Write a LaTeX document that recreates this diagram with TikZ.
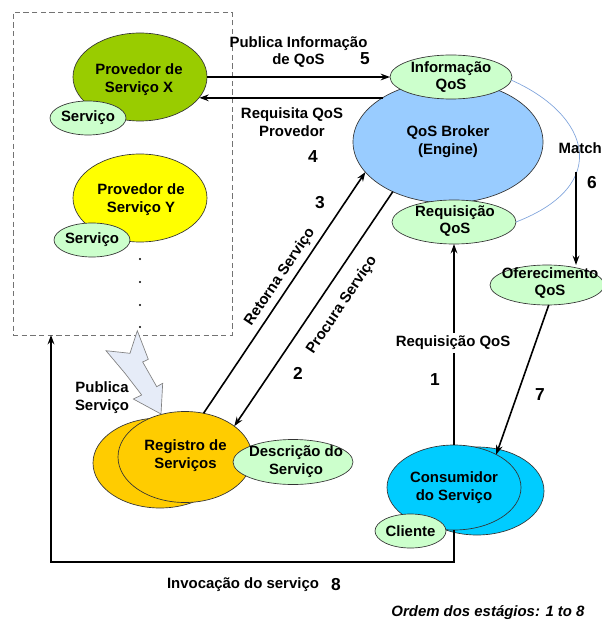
\documentclass[tikz,border=0pt]{standalone}
\usepackage{fontspec}
\setmainfont{Liberation Sans}
\usetikzlibrary{shapes.geometric,arrows.meta,calc}
\definecolor{olive}{HTML}{99CC00}
\definecolor{yel}{HTML}{FFFF00}
\definecolor{lgreen}{HTML}{CCFFCC}
\definecolor{lblue}{HTML}{99CCFF}
\definecolor{gold}{HTML}{FFCC00}
\definecolor{cyanc}{HTML}{00CCFF}
\definecolor{matchc}{HTML}{7FA3DC}
\definecolor{boltf}{HTML}{E6ECF8}
\begin{document}
\begin{tikzpicture}[x=0.75pt,y=-0.75pt,
  E/.style 2 args={ellipse, draw=black!80, line width=0.5pt, inner sep=0pt, outer sep=0pt,
    minimum width={1.5pt*#1}, minimum height={1.5pt*#2}},
  txt/.style={font=\fontsize{11.2}{13.4}\selectfont\bfseries, align=center, inner sep=1pt},
  num/.style={font=\fontsize{13}{15}\selectfont\bfseries, inner sep=0pt},
  arr/.style={line width=1.2pt, -{Stealth[length=7pt,width=5pt]}},
  dotc/.style={circle, fill=black, inner sep=0pt, minimum size=1.6pt}]
\useasboundingbox (0,0) rectangle (601,623);

% dashed group box
\node[draw=black!55, dash pattern=on 4pt off 2.5pt, line width=0.6pt, inner sep=0pt, outer sep=0pt,
  minimum width=164.25pt, minimum height=242.25pt] (grp) at (122.5,173.5) {};

% providers
\node[E={67}{44}, fill=olive] (pX) at (140,77) {};
\node[txt] (tpX) at (139,80) {Provedor de\\Serviço X};
\node[E={38}{17}, fill=lgreen] (sX) at (88,118) {};
\node[txt] (tsX) at (88,118) {Serviço};

\node[E={67}{44}, fill=yel] (pY) at (140,198) {};
\node[txt] (tpY) at (141,200) {Provedor de\\Serviço Y};
\node[E={38}{17}, fill=lgreen] (sY) at (92,240) {};
\node[txt] (tsY) at (92,240) {Serviço};

\node[dotc] (d1) at (140,259) {};
\node[dotc] (d2) at (140,282) {};
\node[dotc] (d3) at (140,305) {};
\node[dotc] (d4) at (140,327) {};

% broker
\node[E={95}{61}, fill=lblue] (brk) at (448,142) {};
\node[txt] (tbrk) at (448,142) {QoS Broker\\(Engine)};
\node[E={61}{22}, fill=lgreen] (info) at (451,77) {};
\node[txt] (tinfo) at (451,77) {Informação\\QoS};
\node[E={62}{22}, fill=lgreen] (req) at (454,222) {};
\node[txt] (treq) at (455,221) {Requisição\\QoS};

% offer
\node[E={57}{20}, fill=lgreen] (ofr) at (547,285) {};
\node[txt] (tofr) at (550,283) {Oferecimento\\QoS};

% registry
\node[E={67}{45}, fill=gold] (regb) at (160,463) {};
\node[E={67}{45.5}, fill=gold] (reg) at (185,457) {};
\node[txt] (treg) at (185.5,456) {Registro de\\Serviços};
\node[E={60}{22.5}, fill=lgreen] (desc) at (293,462) {};
\node[txt] (tdesc) at (296,462) {Descrição do\\Serviço};

% consumer
\node[E={67}{44}, fill=cyanc] (consb) at (477,491) {};
\node[E={67}{42.5}, fill=cyanc] (cons) at (454,487.5) {};
\node[txt] (tcons) at (454,488) {Consumidor\\do Serviço};
\node[E={35.5}{17}, fill=lgreen] (cli) at (410.5,531) {};
\node[txt] (tcli) at (410.5,531) {Cliente};

% publish bolt
\draw[draw=black!50, fill=boltf, line width=0.5pt, line join=miter]
  (137.3,330.7) -- (148.3,359.3) -- (142.7,362) -- (156.7,386.7) -- (162.7,383.3)
  -- (161,414) -- (133.3,399) -- (141.7,395) -- (125,373.3) -- (106,350.7)
  -- (130,353.3) -- cycle;
\node[txt] (tpub) at (102,398) {Publica\\Serviço};

% arrow 5 and 4
\draw[arr] (pX.east) -- (info.west);
\node[txt] (t5) at (298.5,52) {Publica Informação\\de QoS};
\node[num] (n5) at (365,59) {5};
\draw[arr] (brk.146) -- (pX.-19.6 |- brk.146);
\node[txt] (t4) at (292,122) {Requisita QoS\\Provedor};
\node[num] (n4) at (313,157) {4};

% arrows 3 and 2
\draw[arr] (reg.67.8) -- (brk.200);
\node[txt, rotate=56.3] (t3) at (280,277) {Retorna Serviço};
\node[num] (n3) at (320,203) {3};
\draw[arr] (brk.222.8) -- (reg.32);
\node[txt, rotate=56.3] (t2) at (342,305) {Procura Serviço};
\node[num] (n2) at (298,373) {2};

% match curve and arrow 6
\draw[matchc, line width=0.5pt] (info.-3) .. controls (590,115) and (612,185) .. (req.east);
\node[txt, anchor=west] (tmatch) at (557,148) {Match};
\coordinate (m6) at (576,172);
\draw[arr] (m6) -- (m6 |- ofr.north);
\node[num] (n6) at (592,183) {6};

% arrow 7
\draw[arr] (ofr.-85) -- (cons.38.5);
\node[num] (n7) at (540,395) {7};

% arrow 1
\draw[arr] (cons.north) -- (req.south);
\node[txt, fill=white, inner sep=2pt] (t1) at (453,343) {Requisição QoS};
\node[num] (n1) at (435,380) {1};

% arrow 8
\coordinate (c8) at (51,562);
\draw[arr] (cons.south) |- (c8) -- (c8 |- grp.south);
\node[txt] (t8) at (243,585) {Invocação do serviço};
\node[num] (n8) at (336,585) {8};

\node[txt, font=\fontsize{11.2}{13.4}\selectfont\bfseries\itshape] (ord) at (488,613) {Ordem dos estágios: 1 to 8};
\end{tikzpicture}
\end{document}
